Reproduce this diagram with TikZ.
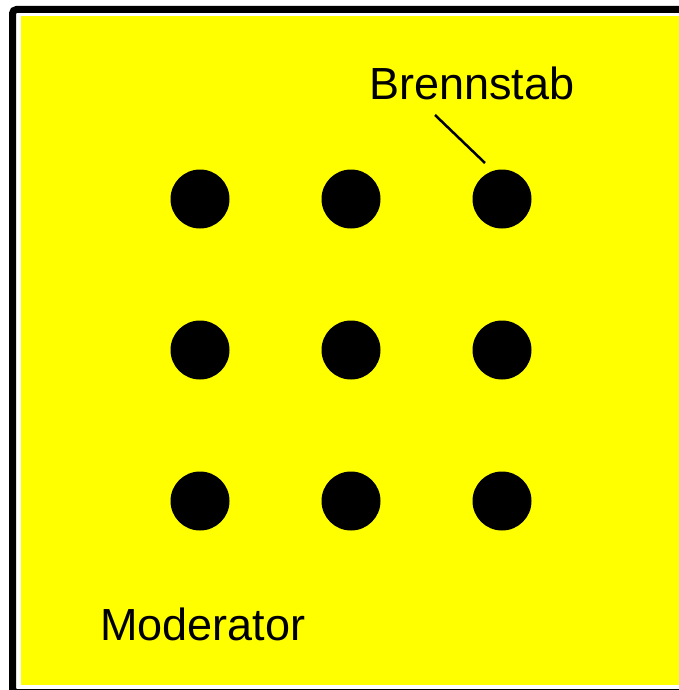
\documentclass[tikz,border=0pt]{standalone}
\usepackage{fontspec}
\setmainfont{Liberation Sans}
\definecolor{modyellow}{RGB}{255,255,0}
\begin{document}
\begin{tikzpicture}[x=1pt,y=-1pt,
  rod/.style={circle,fill=black,minimum size=59pt,inner sep=0pt},
  lbl/.style={anchor=base west,inner sep=0pt,font=\fontsize{45}{54}\selectfont}]
\useasboundingbox (0,0) rectangle (679,690);
\clip (0,0) rectangle (679,690);
\fill[white] (0,0) rectangle (679,690);
\draw[line width=7pt,rounded corners=4pt] (12.5,9.5) rectangle (720,692.5);
\fill[modyellow] (21,16) rectangle (720,685);
\foreach \i/\x in {1/200,2/351,3/502}{
  \foreach \j/\y in {1/199,2/350,3/501}{
    \node[rod] (c\j\i) at (\x,\y) {};
  }
}
\node[lbl] (brennstab) at (369,100) {Brennstab};
\node[lbl] (moderator) at (100,640) {Moderator};
\coordinate (leadA) at (435,115);
\coordinate (leadB) at (485,163);
\draw[line width=2.5pt] (leadA) -- (leadB);
\end{tikzpicture}
\end{document}
